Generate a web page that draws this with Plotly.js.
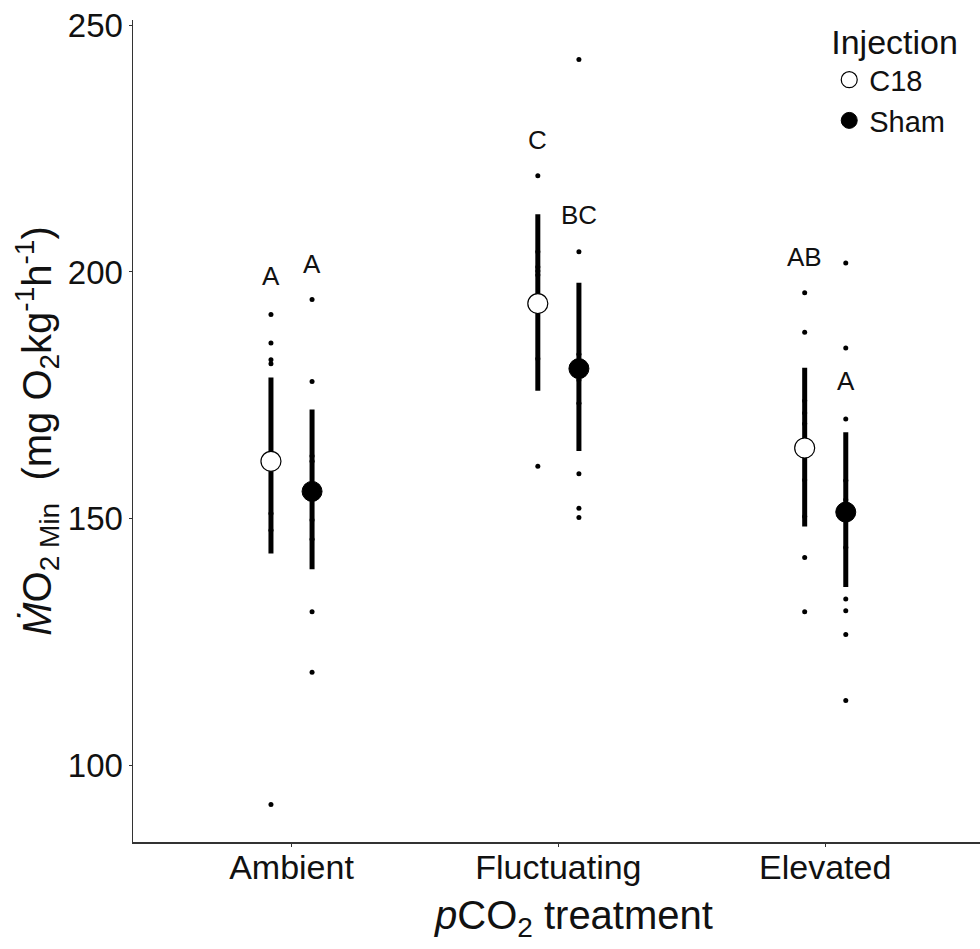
<!DOCTYPE html>
<html>
<head>
<meta charset="utf-8">
<script src="https://cdn.plot.ly/plotly-3.0.1.min.js"></script>
<style>html,body{margin:0;padding:0;background:#fff;}#chart{width:980px;height:949px;}</style>
</head>
<body>
<div id="chart"></div>
<script>
// Categories and groups
var categories = ["Ambient", "Fluctuating", "Elevated"];
var injections = ["C18", "Sham"];

var ambientC18 = [191.4, 185.6, 182.2, 181.4, 151.0, 147.6, 92.0];
var ambientSham = [194.4, 177.8, 162.7, 161.6, 149.7, 145.8, 131.1, 118.8];
var fluctC18 = [219.5, 204.1, 201.0, 200.2, 199.4, 182.4, 160.6];
var fluctSham = [243.1, 204.1, 183.3, 178.1, 173.4, 159.1, 152.1, 150.2];
var elevC18 = [195.8, 187.8, 173.9, 171.4, 169.2, 157.8, 150.4, 142.1, 131.1];
var elevSham = [201.8, 184.6, 170.2, 157.7, 153.8, 144.1, 133.7, 131.3, 126.5, 113.1];

// Means and interval bounds
var meanC18 = [161.6, 193.6, 164.3];
var upperC18 = [178.6, 211.7, 180.6];
var lowerC18 = [142.9, 175.9, 148.4];
var meanSham = [155.5, 180.4, 151.3];
var upperSham = [172.1, 197.8, 167.5];
var lowerSham = [139.7, 163.7, 136.1];

// Significance letters
var lettersC18 = ["A", "C", "AB"];
var letterYC18 = [199.1, 226.7, 203.0];
var lettersSham = ["A", "BC", "A"];
var letterYSham = [201.7, 211.5, 177.8];

var dodge = 0.077;
var catPos = categories.map(function(c, i){ return i + 1; });
var posC18 = catPos.map(function(p){ return p - dodge; });
var posSham = catPos.map(function(p){ return p + dodge; });

var FONT = "Liberation Sans, Arial, sans-serif";

function rawTrace(vals, x) {
  return {
    x: vals.map(function(){ return x; }), y: vals,
    type: "scatter", mode: "markers", showlegend: false, hoverinfo: "skip",
    marker: {color: "#000", size: 5}
  };
}

var traces = [
  rawTrace(ambientC18, posC18[0]), rawTrace(ambientSham, posSham[0]),
  rawTrace(fluctC18, posC18[1]), rawTrace(fluctSham, posSham[1]),
  rawTrace(elevC18, posC18[2]), rawTrace(elevSham, posSham[2]),
  {
    x: posC18, y: meanC18, name: injections[0], type: "scatter", mode: "markers",
    marker: {color: "#fff", size: 20, line: {color: "#000", width: 1.2}},
    error_y: {type: "data", symmetric: false,
      array: upperC18.map(function(u, i){ return u - meanC18[i]; }),
      arrayminus: lowerC18.map(function(l, i){ return meanC18[i] - l; }),
      width: 0, thickness: 5, color: "#000"}
  },
  {
    x: posSham, y: meanSham, name: injections[1], type: "scatter", mode: "markers",
    marker: {color: "#000", size: 20, line: {color: "#000", width: 1}},
    error_y: {type: "data", symmetric: false,
      array: upperSham.map(function(u, i){ return u - meanSham[i]; }),
      arrayminus: lowerSham.map(function(l, i){ return meanSham[i] - l; }),
      width: 0, thickness: 5, color: "#000"}
  }
];

var annotations = [];
lettersC18.forEach(function(t, i){
  annotations.push({x: posC18[i], y: letterYC18[i], text: t, showarrow: false,
    font: {family: FONT, size: 26, color: "#111"}});
});
lettersSham.forEach(function(t, i){
  annotations.push({x: posSham[i], y: letterYSham[i], text: t, showarrow: false,
    font: {family: FONT, size: 26, color: "#111"}});
});
// x-axis title (placed as annotation to match the reference's horizontal position)
annotations.push({xref: "paper", yref: "paper", x: 0.52, y: -0.093, xanchor: "center", yanchor: "middle",
  text: "<i>p</i>CO<sub>2</sub> treatment", showarrow: false,
  font: {family: FONT, size: 40, color: "#111"}});

var layout = {
  width: 980, height: 949,
  margin: {l: 133, r: 0, t: 20, b: 107},
  paper_bgcolor: "#fff", plot_bgcolor: "#fff",
  font: {family: FONT, color: "#111"},
  showlegend: true,
  legend: {
    x: 0.822, y: 1.012, xanchor: "left", yanchor: "top",
    bgcolor: "rgba(0,0,0,0)",
    title: {text: "Injection", font: {size: 34, color: "#111"}},
    font: {size: 29, color: "#111"},
    tracegroupgap: 0
  },
  xaxis: {
    range: [0.406, 3.58], tickvals: catPos, ticktext: categories,
    showgrid: false, zeroline: false, showline: true, linecolor: "#333", linewidth: 1.5,
    ticks: "outside", ticklen: 3, tickcolor: "#333", tickwidth: 1,
    ticklabelstandoff: -8,
    tickfont: {size: 34, color: "#111"}
  },
  yaxis: {
    range: [84.4, 251.1], tickvals: [100, 150, 200, 250],
    showgrid: false, zeroline: false, showline: true, linecolor: "#333", linewidth: 1.5,
    ticks: "outside", ticklen: 3, tickcolor: "#333", tickwidth: 1,
    ticklabelstandoff: -1,
    tickfont: {size: 33, color: "#111"},
    title: {text: "<i>\u1E40</i>O<sub>2 Min</sub>  (mg O<sub>2</sub>kg<sup>-1</sup>h<sup>-1</sup>)",
      font: {size: 40, color: "#111"}, standoff: 4}
  },
  annotations: annotations
};

Plotly.newPlot("chart", traces, layout, {displayModeBar: false, staticPlot: true});
</script>
</body>
</html>
